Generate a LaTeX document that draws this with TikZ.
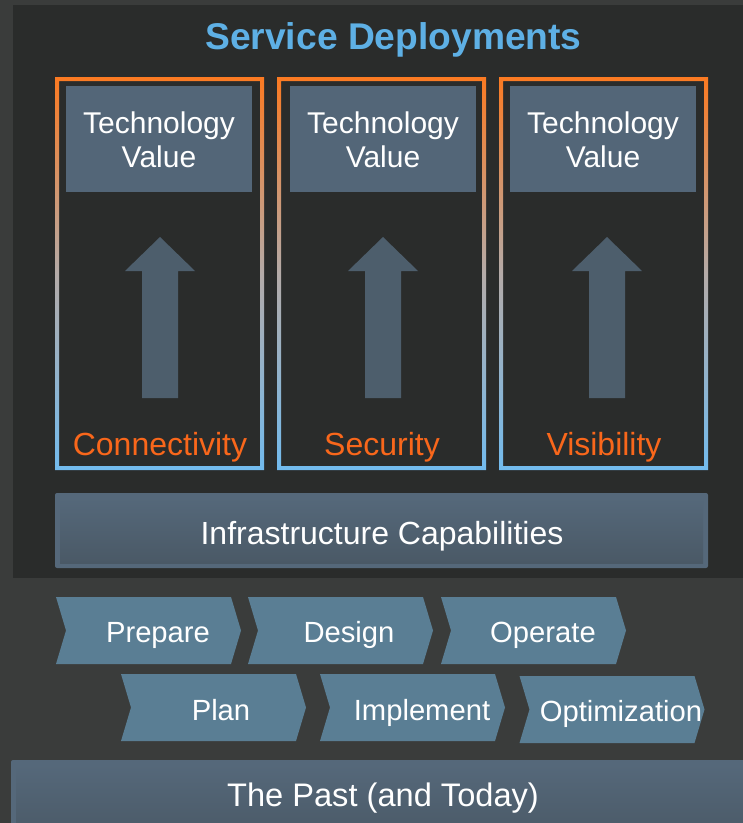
\documentclass[tikz,border=0pt]{standalone}
\usepackage{fontspec}
\setmainfont{Liberation Sans}
\definecolor{pagebg}{HTML}{3A3C3B}
\definecolor{panelbg}{HTML}{2A2C2B}
\definecolor{boxfill}{HTML}{536678}
\definecolor{arrowfill}{HTML}{4D5E6C}
\definecolor{chevfill}{HTML}{5A7E94}
\definecolor{titleblue}{HTML}{5EB0E5}
\definecolor{orangetext}{HTML}{F9671B}
\definecolor{frameorange}{HTML}{FB7A22}
\definecolor{framegrey}{HTML}{B4ABA8}
\definecolor{frameblue}{HTML}{72BBEE}
\definecolor{bandtop}{HTML}{55687A}
\definecolor{bandbot}{HTML}{4A5966}
\tikzset{
  x=1pt,y=-1pt,
  lbl/.style={text=white,font=\fontsize{30}{34}\selectfont,inner sep=0pt,align=center},
  chevlbl/.style={text=white,font=\fontsize{29.2}{34}\selectfont,inner sep=0pt,anchor=base},
  bandlbl/.style={text=white,font=\fontsize{32}{36}\selectfont,inner sep=0pt,anchor=base},
  pastlbl/.style={text=white,font=\fontsize{32.6}{36}\selectfont,inner sep=0pt,anchor=base},
  pillar/.style={text=orangetext,font=\fontsize{32}{36}\selectfont,inner sep=0pt,anchor=base},
  valuebox/.style={fill=boxfill,draw=none},
  uparrow/.style={fill=arrowfill,draw=none},
  chevshape/.style={fill=chevfill,draw=none},
  bandedge/.style={fill=bandtop,draw=none,rounded corners=2pt},
  bandin/.style={top color=bandtop,bottom color=bandbot,draw=none},
}
\newcommand{\pillarframe}[1]{%
  \shade[even odd rule,top color=frameorange,bottom color=frameblue,middle color=framegrey]
    (#1,77) rectangle ++(209,393) (#1+4,81) rectangle (#1+205,466);}
\newcommand{\uparr}[1]{%
  \fill[uparrow] (#1,237) -- (#1+35,271) -- (#1+18,271) -- (#1+18,398) -- (#1-18,398) -- (#1-18,271) -- (#1-35,271) -- cycle;}
\newcommand{\chev}[2]{%
  \fill[chevshape] (#1,#2) -- (#1+175,#2) -- (#1+185,#2+33.5) -- (#1+175,#2+67) -- (#1,#2+67) -- (#1+10,#2+33.5) -- cycle;}
\begin{document}
\begin{tikzpicture}
\useasboundingbox (0,0) rectangle (743,823);
\fill[pagebg] (0,0) rectangle (743,823);
\fill[panelbg] (13,5) rectangle (743,578);
\node[inner sep=0pt,anchor=base,text=titleblue,font=\fontsize{37.2}{42}\selectfont\bfseries] (title) at (393.5,49) {Service Deployments};
\pillarframe{55}\pillarframe{277}\pillarframe{499}
\fill[valuebox] (66,86) rectangle (252,192);
\fill[valuebox] (290,86) rectangle (476,192);
\fill[valuebox] (510,86) rectangle (696,192);
\node[lbl] (tv1) at (159,140) {Technology\\Value};
\node[lbl] (tv2) at (383,140) {Technology\\Value};
\node[lbl] (tv3) at (603,140) {Technology\\Value};
\uparr{160}\uparr{383}\uparr{607}
\node[pillar] (p1) at (160,455) {Connectivity};
\node[pillar] (p2) at (382,455) {Security};
\node[pillar] (p3) at (604,455) {Visibility};
\fill[bandedge] (55,493) rectangle (708,568);
\shade[bandin] (60,498) rectangle (703,563);
\node[bandlbl] (infra) at (382,544) {Infrastructure Capabilities};
\chev{56}{597}\chev{248}{597}\chev{441}{597}
\chev{121}{674}\chev{320}{674}\chev{519.5}{676}
\node[chevlbl] (c1) at (158,642) {Prepare};
\node[chevlbl] (c2) at (349,642) {Design};
\node[chevlbl] (c3) at (543,642) {Operate};
\node[chevlbl] (c4) at (221,720) {Plan};
\node[chevlbl] (c5) at (422,720) {Implement};
\node[chevlbl] (c6) at (621,721) {Optimization};
\fill[bandedge] (11,760) rectangle (760,840);
\shade[bandin] (16,765) rectangle (760,840);
\node[pastlbl] (past) at (383,806) {The Past (and Today)};
\end{tikzpicture}
\end{document}
